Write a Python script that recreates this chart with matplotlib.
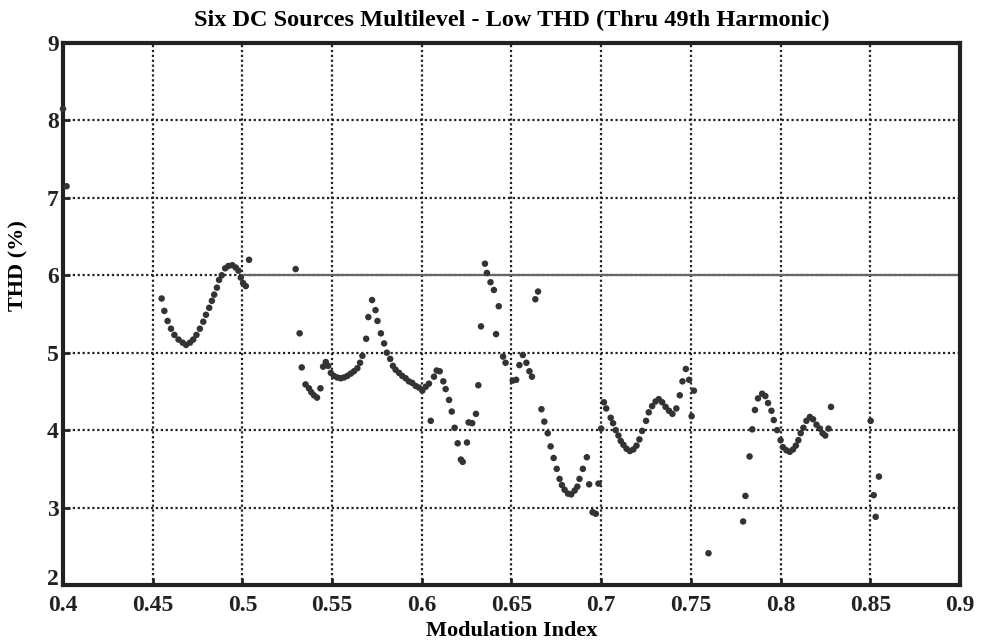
import matplotlib
matplotlib.use("Agg")
import matplotlib.pyplot as plt
import matplotlib.transforms as mtransforms

# Data
mod_index = [
    0.400, 0.402,
    0.455, 0.4565, 0.4583, 0.4602, 0.4621, 0.4644, 0.4667, 0.4686, 0.4708, 0.4726,
    0.4744, 0.4763, 0.4782, 0.4797, 0.4815, 0.4830, 0.4843, 0.4858, 0.4870, 0.4885,
    0.4904, 0.4922, 0.4944, 0.4963, 0.4978, 0.4991, 0.5004, 0.5019, 0.5037,
    0.5297, 0.5319, 0.5331, 0.5352, 0.5371, 0.5384, 0.5399, 0.5416, 0.5435, 0.5450,
    0.5465, 0.5478, 0.5493, 0.5510, 0.5529, 0.5548, 0.5566, 0.5585, 0.5604, 0.5622,
    0.5641, 0.5656, 0.5669, 0.5690, 0.5702, 0.5723, 0.5742, 0.5753, 0.5772, 0.5790,
    0.5805, 0.5824, 0.5839, 0.5854, 0.5873, 0.5891, 0.5910, 0.5928, 0.5947, 0.5966,
    0.5984, 0.6003, 0.6022, 0.6040, 0.6050, 0.6068, 0.6083, 0.6100, 0.6120, 0.6133,
    0.6152, 0.6167, 0.6183, 0.6200, 0.6218, 0.6228, 0.6252, 0.6261, 0.6281, 0.6302,
    0.6315, 0.6330, 0.6352, 0.6363, 0.6383, 0.6402, 0.6414, 0.6429, 0.6453, 0.6467,
    0.6507, 0.6526, 0.6544, 0.6563, 0.6583, 0.6600, 0.6614, 0.6633, 0.6648, 0.6667,
    0.6683, 0.6702, 0.6718, 0.6735, 0.6752, 0.6768, 0.6781, 0.6796, 0.6815, 0.6833,
    0.6852, 0.6867, 0.6879, 0.6898, 0.6920, 0.6933, 0.6952, 0.6970, 0.6985, 0.7000,
    0.7015, 0.7028, 0.7053, 0.7066, 0.7081, 0.7096, 0.7109, 0.7124, 0.7141, 0.7160,
    0.7179, 0.7197, 0.7213, 0.7228, 0.7250, 0.7265, 0.7284, 0.7303, 0.7321, 0.7340,
    0.7359, 0.7378, 0.7397, 0.7419, 0.7438, 0.7453, 0.7472, 0.7490, 0.7504, 0.7517,
    0.7598, 0.7791, 0.7804, 0.7827, 0.7842, 0.7857, 0.7874, 0.7897, 0.7915, 0.7930,
    0.7949, 0.7962, 0.7981, 0.8000, 0.8013, 0.8032, 0.8051, 0.8069, 0.8085, 0.8099,
    0.8112, 0.8127, 0.8144, 0.8163, 0.8181, 0.8200, 0.8219, 0.8234, 0.8249, 0.8267,
    0.8281, 0.8502, 0.8519, 0.8530, 0.8548,
]
thd_pct = [
    8.15, 7.15,
    5.70, 5.54, 5.41, 5.31, 5.23, 5.17, 5.13, 5.10, 5.13, 5.17,
    5.23, 5.31, 5.40, 5.49, 5.58, 5.67, 5.75, 5.84, 5.94, 6.00,
    6.09, 6.12, 6.13, 6.10, 6.06, 5.97, 5.90, 5.86, 6.20,
    6.08, 5.25, 4.81, 4.59, 4.54, 4.49, 4.45, 4.42, 4.54, 4.82,
    4.88, 4.83, 4.74, 4.70, 4.68, 4.67, 4.68, 4.70, 4.73, 4.76,
    4.80, 4.87, 4.96, 5.18, 5.46, 5.68, 5.55, 5.41, 5.25, 5.12,
    5.00, 4.92, 4.83, 4.78, 4.74, 4.70, 4.67, 4.63, 4.61, 4.57,
    4.55, 4.51, 4.56, 4.60, 4.12, 4.69, 4.77, 4.76, 4.63, 4.53,
    4.39, 4.24, 4.03, 3.83, 3.62, 3.59, 3.84, 4.10, 4.09, 4.21,
    4.58, 5.34, 6.15, 6.03, 5.91, 5.81, 5.24, 5.60, 4.95, 4.87,
    4.64, 4.65, 4.84, 4.97, 4.87, 4.76, 4.69, 5.69, 5.79, 4.27,
    4.11, 3.96, 3.79, 3.64, 3.50, 3.37, 3.29, 3.23, 3.18, 3.17,
    3.22, 3.27, 3.37, 3.50, 3.65, 3.30, 2.94, 2.92, 3.31, 4.02,
    4.36, 4.28, 4.16, 4.09, 4.00, 3.93, 3.86, 3.81, 3.76, 3.73,
    3.75, 3.80, 3.88, 3.99, 4.12, 4.23, 4.31, 4.37, 4.40, 4.36,
    4.30, 4.25, 4.21, 4.28, 4.45, 4.63, 4.79, 4.65, 4.18, 4.51,
    2.41, 2.82, 3.15, 3.66, 4.01, 4.26, 4.41, 4.47, 4.44, 4.35,
    4.25, 4.13, 4.00, 3.87, 3.78, 3.74, 3.72, 3.75, 3.80, 3.87,
    3.96, 4.03, 4.12, 4.17, 4.14, 4.07, 4.02, 3.96, 3.93, 4.02,
    4.30, 4.12, 3.16, 2.88, 3.40,
]
x_ticks = [0.4, 0.45, 0.5, 0.55, 0.6, 0.65, 0.7, 0.75, 0.8, 0.85, 0.9]
x_tick_labels = ["0.4", "0.45", "0.5", "0.55", "0.6", "0.65", "0.7", "0.75", "0.8", "0.85", "0.9"]
y_ticks = [2, 3, 4, 5, 6, 7, 8, 9]
ref_level = 6

plt.rcParams['font.family'] = ['Liberation Serif', 'DejaVu Serif']
plt.rcParams['font.weight'] = 'bold'

fig = plt.figure(figsize=(9.81, 6.41), dpi=100)
ax = fig.add_axes([0.0642, 0.0874, 0.9144, 0.8455])

ax.set_xlim(0.4, 0.9)
ax.set_ylim(2, 9)
ax.set_xticks(x_ticks)
ax.set_xticklabels(x_tick_labels)
ax.set_yticks(y_ticks)

ax.grid(True, linestyle=(0, (1, 1.2)), color='#222222', linewidth=1.6)
ax.set_axisbelow(True)
ax.axhline(ref_level, xmin=0.2, xmax=1.0, color='#666666', linewidth=1.6, zorder=1)

ax.scatter(mod_index, thd_pct, s=22, color='#333333', edgecolors='none', zorder=3, clip_on=False)

for sp in ax.spines.values():
    sp.set_linewidth(3)
    sp.set_color('#222222')

ax.tick_params(direction='in', length=5, width=2, labelsize=17, colors='#222222')
ax.tick_params(axis='x', pad=7)
ax.tick_params(axis='y', pad=3)
for lbl in ax.get_xticklabels() + ax.get_yticklabels():
    lbl.set_fontweight('bold')

# lift the bottom y label slightly, as in the reference
ylbls = ax.get_yticklabels()
ylbls[0].set_transform(ylbls[0].get_transform() +
                       mtransforms.ScaledTranslation(0, 6 / 72, fig.dpi_scale_trans))

ax.set_title("Six DC Sources Multilevel - Low THD (Thru 49th Harmonic)",
             fontsize=17.5, fontweight='bold', pad=12)
ax.set_xlabel("Modulation Index", fontsize=16, fontweight='bold', labelpad=4)
ax.set_ylabel("THD (%)", fontsize=16, fontweight='bold', va='center')
ax.yaxis.set_label_coords(-0.05, 0.59)

fig.savefig("out.png", dpi=100)
